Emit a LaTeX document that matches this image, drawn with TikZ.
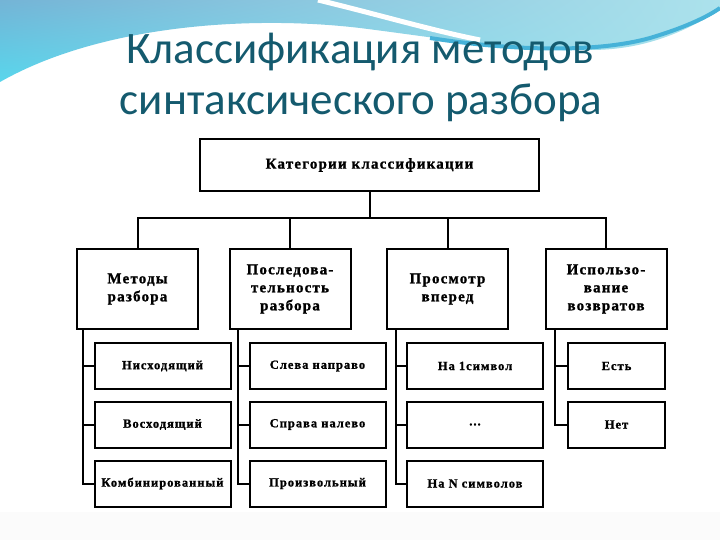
\documentclass[tikz,border=0pt]{standalone}
\usepackage{fontspec}
\usetikzlibrary{shadings}
\newfontfamily\titlefont{Carlito}
\newfontfamily\boxfont[LetterSpace=8, BoldFeatures={FakeBold=1.2}]{Liberation Serif}
\definecolor{titleteal}{RGB}{20,90,110}
\definecolor{skydark}{RGB}{116,180,214}
\definecolor{skycyan}{RGB}{88,214,236}
\definecolor{skylight}{RGB}{172,226,236}
\definecolor{skyband}{RGB}{70,178,216}
\begin{document}
\begin{tikzpicture}[
      x=1pt, y=-1pt,
      box/.style={
        draw, line width=2pt, fill=white, align=center,
        inner sep=1pt, font=\boxfont\bfseries
      },
      headbox/.style={
        box, minimum width=339, minimum height=52,
        font=\boxfont\bfseries\fontsize{15}{18}\selectfont
      },
      catbox/.style={
        box, minimum width=121, minimum height=80,
        font=\boxfont\bfseries\fontsize{15}{18}\selectfont
      },
      leafbox/.style={
        box, minimum width=136, minimum height=46,
        font=\boxfont\bfseries\fontsize{12.5}{15}\selectfont
      },
      link/.style={line width=2pt, black},
      titletext/.style={
        anchor=base, text=titleteal, inner sep=0,
        font=\titlefont\fontsize{45}{50}\selectfont
      }
    ]
    \useasboundingbox (0,0) rectangle (720,540);
    \fill[white] (0,0) rectangle (720,540);
    \fill[gray!3] (0,512) rectangle (720,540);

    % Sky swoosh at the top.
    \shade[upper left=skydark, lower left=skycyan,
           upper right=skylight, lower right=skylight]
      (0,0) -- (720,0) -- (720,10)
      .. controls (680,35) and (640,50) .. (590,50)
      .. controls (520,52) and (440,38) .. (360,28)
      .. controls (250,15) and (100,25) .. (0,82) -- cycle;
    \draw[skyband, line width=4pt]
      (430,38) .. controls (520,52) and (600,52) .. (650,38)
      .. controls (690,26) and (710,15) .. (720,8);
    \draw[white, line width=5pt]
      (318,0) .. controls (380,15) and (430,30) .. (480,40);

    % Title.
    \node[titletext] (title1) at (360,64)  {Классификация методов};
    \node[titletext] (title2) at (361,115) {синтаксического разбора};

    % Root and the four categories.
    \node[headbox] (cat) at (369.5,165) {Категории классификации};

    \node[catbox] (m1) at (137.5,289) {Методы\\разбора};
    \node[catbox] (m2) at (290,289)   {Последова-\\тельность\\разбора};
    \node[catbox] (m3) at (447.5,289) {Просмотр\\вперед};
    \node[catbox] (m4) at (606,289)   {Использо-\\вание\\возвратов};

    % Leaves, one column per category.
    \node[leafbox] (s11) at (162.5,366)   {Нисходящий};
    \node[leafbox] (s12) at (162.5,424.5) {Восходящий};
    \node[leafbox] (s13) at (162.5,483.5) {Комбинированный};

    \node[leafbox] (s21) at (317.5,366)   {Слева направо};
    \node[leafbox] (s22) at (317.5,424.5) {Справа налево};
    \node[leafbox] (s23) at (317.5,483.5) {Произвольный};

    \node[leafbox] (s31) at (475,366)   {На 1символ};
    \node[leafbox] (s32) at (475,424.5) {...};
    \node[leafbox] (s33) at (475,483.5) {На N символов};

    \node[leafbox, minimum width=97] (s41) at (616.5,366)   {Есть};
    \node[leafbox, minimum width=97] (s42) at (616.5,424.5) {Нет};

    % Root to categories.
    \coordinate (hub) at (369.5,218);
    \draw[link] (cat) -- (hub);
    \draw[link] (m1.north) |- (hub) -| (m4.north);
    \draw[link] (m2.north) -- (m2.north |- hub);
    \draw[link] (m3.north) -- (m3.north |- hub);

    % Trunks down the left side of each column.
    \coordinate (t1) at (83,329);
    \coordinate (t2) at (238,329);
    \coordinate (t3) at (396,329);
    \coordinate (t4) at (555,329);
    \draw[link] (t1) |- (s13.west);
    \draw[link] (t1 |- s11.west) -- (s11.west);
    \draw[link] (t1 |- s12.west) -- (s12.west);
    \draw[link] (t2) |- (s23.west);
    \draw[link] (t2 |- s21.west) -- (s21.west);
    \draw[link] (t2 |- s22.west) -- (s22.west);
    \draw[link] (t3) |- (s33.west);
    \draw[link] (t3 |- s31.west) -- (s31.west);
    \draw[link] (t3 |- s32.west) -- (s32.west);
    \draw[link] (t4) |- (s42.west);
    \draw[link] (t4 |- s41.west) -- (s41.west);
  \end{tikzpicture}
\end{document}
